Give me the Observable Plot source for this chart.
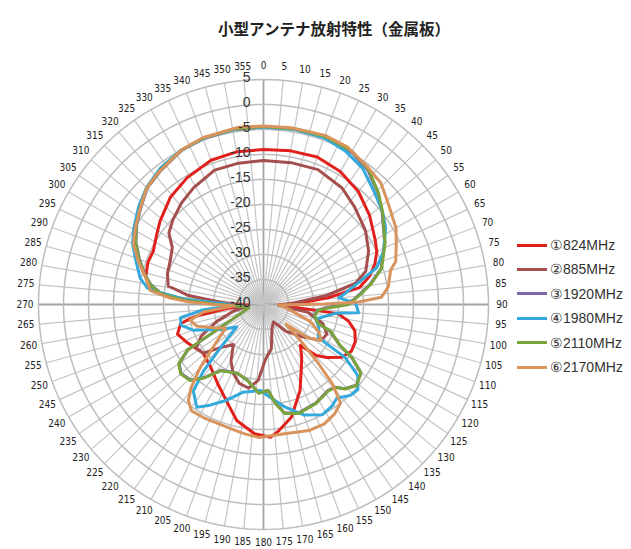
<!DOCTYPE html>
<html><head><meta charset="utf-8">
<script src="https://cdn.jsdelivr.net/npm/d3@7"></script>
<script src="https://cdn.jsdelivr.net/npm/@observablehq/plot@0.6"></script>
<style>
body{margin:0;background:#fff;width:631px;height:549px;position:relative;overflow:hidden;font-family:"Liberation Sans",Arial,sans-serif;}
#title{position:absolute;left:0;top:17px;width:668px;text-align:center;font-family:"Noto Sans CJK JP",sans-serif;font-weight:bold;font-size:15.5px;color:#222;}
#chart{position:absolute;left:0;top:50px;}
.lg{position:absolute;left:517px;height:20px;display:flex;align-items:center;font-size:14px;color:#333;}
.lg span.sw{display:inline-block;width:30px;height:3px;margin-right:3px;}
</style></head><body>
<div id="title">小型アンテナ放射特性（金属板）</div>
<div id="chart"></div>
<div id="legend"></div>
<script>
// [angle (deg, clockwise from top), level (dB)]
const s824 = [[0,-9.0],[10,-8.8],[20,-8.6],[30,-9.3],[40,-10.5],[50,-12.3],[60,-14.2],[65,-15],[70,-16.3],[75,-18],[80,-20.5],[84,-27],[88,-33],[92,-37],[97,-25],[101,-22.7],[106,-21],[112,-20.2],[118,-20.1],[124,-21.1],[130,-23.5],[134,-25.3],[138,-29],[144,-27],[149,-25.3],[157,-21.3],[166,-16.8],[173,-14.6],[177,-13.4],[184,-14.1],[193,-16.2],[200,-19],[210,-21.7],[220,-23.6],[231,-24.5],[243,-23],[251,-21.8],[257,-23],[260,-26],[264,-33],[268,-37],[271,-30],[273,-24.8],[277,-17.8],[283,-15.8],[290,-15.4],[296,-15.5],[303,-14.5],[309,-13.4],[319,-11.6],[329,-10.4],[340,-9.3],[350,-9.0]];
const s885 = [[0,-11.2],[11,-11.1],[22,-10.9],[34,-11.9],[43,-13.3],[54,-14.8],[63,-16.4],[72,-18.5],[77,-21.1],[82,-27.5],[88,-34.4],[93,-37],[100,-31],[108,-27.5],[115,-26],[122,-26.4],[130,-30],[140,-33],[150,-36],[160,-35],[170,-31],[178,-29],[184,-24.8],[190,-23],[197,-23.5],[204,-25],[210,-27],[217,-30],[225,-27.8],[231,-24.5],[237,-24],[243,-26],[250,-30],[258,-34],[265,-37],[270,-34],[273,-31.4],[277,-24.7],[281,-20.6],[288,-19.8],[295,-19.4],[302,-18.5],[307,-16.3],[313,-15.2],[321,-13.9],[329,-12.8],[340,-11.4],[350,-11.3]];
const s1920 = [[0,-4.5],[10,-4.4],[20,-4.3],[30,-4.8],[38,-6],[46,-8.1],[52,-9.9],[63,-12.8],[73,-15.4],[79,-18.2],[83,-20.2],[87,-22],[90,-23.5],[93,-27.5],[96,-29.2],[103,-29.6],[109,-28.5],[112,-25.6],[118,-22.8],[121,-19.5],[125,-16.2],[131,-15.4],[136,-16.6],[139,-18.1],[143,-18.5],[152,-17.7],[162,-17.2],[169,-17.9],[173,-20.1],[177,-22.8],[183,-22.3],[192,-24.5],[201,-25.3],[213,-24.3],[219,-21.2],[224,-19],[230,-18.5],[235,-19.4],[239,-22.3],[241,-28.5],[248,-35],[258,-37],[266,-35],[270,-31],[273,-24],[276,-19.4],[280,-17.1],[284,-15.6],[290,-13.6],[296,-11.6],[302,-10.1],[308,-8.8],[315,-7.1],[322,-6.3],[332,-5.1],[340,-4.7],[350,-4.5]];
const s1980 = [[0,-4.5],[10,-4.4],[20,-4.5],[28,-5.2],[36,-6.3],[44,-8.3],[52,-9.8],[58,-11.2],[66,-13.7],[72,-16.2],[76,-19.8],[82,-23.4],[85,-24.9],[89,-21.6],[95,-20.9],[97,-25.5],[105,-29],[113,-28],[121,-27.2],[123,-20.5],[127,-16.4],[132,-14.6],[136,-14.8],[142,-16.2],[146,-15.5],[152,-15],[160,-16.5],[168,-19],[176,-21.4],[182,-22.8],[193,-22],[201,-19.5],[208,-17.2],[213,-15.5],[219,-17.7],[222,-22],[225,-28],[230,-33],[240,-30],[250,-25],[256,-23],[261,-23.2],[265,-28],[268,-34],[271,-32],[274,-24],[276.6,-19.3],[278,-16.6],[282,-14.8],[289,-13],[295,-11.1],[301,-9.8],[308,-8.3],[315,-6.9],[323,-5.8],[332,-5],[341,-4.6],[351,-4.5]];
const s2110 = [[0,-4.4],[10,-4.3],[20,-4.2],[30,-4.6],[38,-5.8],[46,-8],[52,-9.8],[63,-12.7],[73,-15.3],[79,-18],[83,-20],[87,-21.8],[90,-23],[93,-27],[96,-29],[103,-29.5],[109,-28.4],[112,-25.4],[118,-22.7],[121,-19.3],[125,-16.2],[131,-15.3],[136,-16.5],[139,-18],[143,-18.4],[152,-17.6],[162,-17.1],[169,-17.8],[173,-20],[177,-22.8],[183,-22.2],[192,-24.5],[201,-25.3],[213,-24.2],[219,-21.1],[224,-18.9],[230,-18.4],[235,-19.3],[239,-22.2],[241,-28.4],[248,-35],[258,-37],[266,-35],[270,-31],[273,-24],[276,-19.3],[280,-17],[284,-15.5],[290,-13.5],[296,-11.5],[302,-10],[308,-8.7],[315,-7],[322,-6.2],[332,-5],[340,-4.6],[350,-4.4]];
const s2170 = [[0,-4.3],[9,-4.2],[20,-4.0],[28,-4.3],[37,-5.5],[44,-6.2],[51,-7.9],[60,-9.4],[65,-10.7],[72,-12.2],[75,-13.7],[82,-14.8],[86.5,-16.4],[88.5,-21],[89.5,-27.6],[92,-37],[100,-35],[110,-30],[117,-27.5],[122,-26.4],[127,-29],[131,-34],[134,-30],[137,-24],[139,-19],[142,-15],[147,-13.9],[153,-13.2],[160,-13.2],[170,-13.8],[182,-13.4],[189,-13.9],[196,-14.4],[208,-14.4],[214,-14.3],[218,-15.6],[221,-17.9],[225,-22],[230,-27],[238,-31],[245,-29],[252,-26],[258,-25],[263,-28],[267,-34],[270,-30],[272,-25],[274,-21.3],[277,-17.2],[283,-15.8],[289,-13.5],[295,-11.3],[301,-10.1],[308,-8.7],[315,-7],[322,-6.2],[332,-5],[340,-4.5],[352,-4.2]];

const seriesNames = ["①824MHz","②885MHz","③1920MHz","④1980MHz","⑤2110MHz","⑥2170MHz"];
const seriesColors = ["#e1201c","#a44f4d","#7a66a8","#33a9dc","#7ba43c","#d9935c"];
const seriesData = [s824, s885, s1920, s1980, s2110, s2170];
const dbTicks = [5,0,-5,-10,-15,-20,-25,-30,-35,-40];
const angleTicks = [0,5,10,15,20,25,30,35,40,45,50,55,60,65,70,75,80,85,90,95,100,105,110,115,120,125,130,135,140,145,150,155,160,165,170,175,180,185,190,195,200,205,210,215,220,225,230,235,240,245,250,255,260,265,270,275,280,285,290,295,300,305,310,315,320,325,330,335,340,345,350,355];

const rMin = -40, rMax = 5;
const rad = a => a * Math.PI / 180;
const px = (a, v) => (Math.max(v, rMin) - rMin) * Math.sin(rad(a));
const py = (a, v) => (Math.max(v, rMin) - rMin) * Math.cos(rad(a));
const R = rMax - rMin;
const LR = 47.7;

const ringPts = dbTicks.filter(d => d > rMin).flatMap(d => d3.range(0, 361, 2).map(a => ({d, a})));
const spokes = angleTicks.map(a => ({a}));

const chart = Plot.plot({
  width: 631, height: 499, margin: 0,
  x: {domain: [-52.6, 73.6], axis: null},
  y: {domain: [-49, 50.8], axis: null},
  style: {background: "transparent", overflow: "visible"},
  marks: [
    Plot.link(spokes, {x1: 0, y1: 0, x2: d => R * Math.sin(rad(d.a)), y2: d => R * Math.cos(rad(d.a)),
      stroke: d => d.a % 90 === 0 ? "#a4a4a4" : "#c4c4c4", strokeWidth: d => d.a % 90 === 0 ? 1.8 : 1.2}),
    Plot.line(ringPts, {x: d => px(d.a, d.d), y: d => py(d.a, d.d), z: "d", stroke: "#bdbdbd", strokeWidth: 1.5}),
    ...seriesData.map((s, i) => Plot.line(s, {x: d => px(d[0], d[1]), y: d => py(d[0], d[1]),
      stroke: seriesColors[i], strokeWidth: 3, curve: "linear-closed", strokeLinejoin: "round"})),
    Plot.text(dbTicks, {x: 0, y: d => d - rMin, text: d => String(d), textAnchor: "end", dx: -13, dy: -2,
      fontSize: 14, fill: "#333", fontFamily: "Liberation Sans, Arial, sans-serif"}),
    Plot.text(angleTicks, {x: a => LR * Math.sin(rad(a)), y: a => LR * Math.cos(rad(a)), text: a => String(a),
      textAnchor: "middle", lineAnchor: "middle", fontSize: 10, fill: "#222",
      fontFamily: "Liberation Sans Narrow, DejaVu Sans Condensed, Arial Narrow, sans-serif"})
  ]
});
document.getElementById("chart").appendChild(chart);

const lg = document.getElementById("legend");
seriesNames.forEach((n, i) => {
  const row = document.createElement("div");
  row.className = "lg";
  row.style.top = (235 + 24.4 * i) + "px";
  row.innerHTML = `<span class="sw" style="background:${seriesColors[i]}"></span><span>${n}</span>`;
  lg.appendChild(row);
});
</script>
</body></html>
